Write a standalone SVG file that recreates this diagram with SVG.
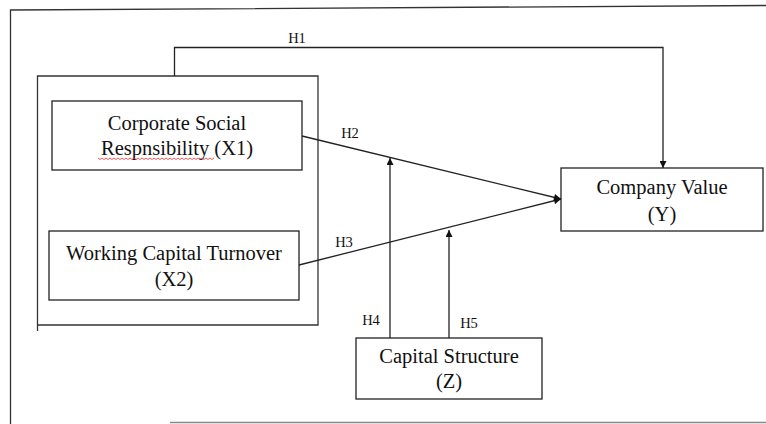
<svg xmlns="http://www.w3.org/2000/svg" width="766" height="424" viewBox="0 0 766 424">
  <defs>
    <marker id="arr" viewBox="0 0 10 10" refX="10" refY="5" markerWidth="8" markerHeight="7" markerUnits="userSpaceOnUse" orient="auto">
      <path d="M0,0 L10,5 L0,10 Z" fill="#111"/>
    </marker>
  </defs>
  <style>
    .box { fill: #fff; stroke: #222; stroke-width: 1.3; }
    .frame { fill: none; stroke: #333; stroke-width: 1.3; }
    .edge { fill: none; stroke: #222; stroke-width: 1.3; }
    .lbl { font-family: "Liberation Serif", "Times New Roman", serif; font-size: 20.5px; fill: #111; text-anchor: middle; }
    .h { font-family: "Liberation Serif", "Times New Roman", serif; font-size: 14.5px; fill: #111; text-anchor: middle; }
  </style>
  <rect width="766" height="424" fill="#fff"/>

  <!-- outer frame -->
  <g id="frame">
    <path class="frame" d="M10.5,424 L10.5,10 L766,5.5"/>
    <line x1="170" y1="422.5" x2="766" y2="422.5" stroke="#888" stroke-width="1.5"/>
  </g>

  <!-- group box -->
  <g id="group">
    <path class="frame" d="M37.5,331 L37.5,76 L318,76 L318,325 L37.5,325"/>
  </g>

  <g id="x1">
    <rect class="box" x="52" y="101" width="250" height="69"/>
    <text class="lbl" x="177" y="130">Corporate Social</text>
    <text class="lbl" x="177" y="155">Respnsibility (X1)</text>
    <path d="M98,158 l2,1.5 l2,-1.5 l2,1.5 l2,-1.5 l2,1.5 l2,-1.5 l2,1.5 l2,-1.5 l2,1.5 l2,-1.5 l2,1.5 l2,-1.5 l2,1.5 l2,-1.5 l2,1.5 l2,-1.5 l2,1.5 l2,-1.5 l2,1.5 l2,-1.5 l2,1.5 l2,-1.5 l2,1.5 l2,-1.5 l2,1.5 l2,-1.5 l2,1.5 l2,-1.5 l2,1.5 l2,-1.5 l2,1.5 l2,-1.5 l2,1.5 l2,-1.5 l2,1.5 l2,-1.5 l2,1.5 l2,-1.5 l2,1.5 l2,-1.5 l2,1.5 l2,-1.5 l2,1.5 l2,-1.5 l2,1.5 l2,-1.5 l2,1.5 l2,-1.5 l2,1.5 l2,-1.5 l2,1.5 l2,-1.5 l2,1.5 l2,-1.5 l2,1.5 l2,-1.5 l2,1.5 l2,-1.5" fill="none" stroke="#e03030" stroke-width="0.8"/>
  </g>

  <g id="x2">
    <rect class="box" x="49" y="231" width="250" height="69"/>
    <text class="lbl" x="174" y="260">Working Capital Turnover</text>
    <text class="lbl" x="174" y="286">(X2)</text>
  </g>

  <g id="y">
    <rect class="box" x="561" y="168" width="202" height="63"/>
    <text class="lbl" x="662" y="194">Company Value</text>
    <text class="lbl" x="662" y="221">(Y)</text>
  </g>

  <g id="z">
    <rect class="box" x="356" y="338" width="186" height="61"/>
    <text class="lbl" x="449" y="363">Capital Structure</text>
    <text class="lbl" x="449" y="388">(Z)</text>
  </g>

  <g id="connectors">
    <path class="edge" d="M174.5,76 L174.5,47.5 L663,47.5 L663,168" marker-end="url(#arr)"/>
    <line class="edge" x1="302" y1="136" x2="561" y2="199" marker-end="url(#arr)"/>
    <line class="edge" x1="299" y1="265" x2="561" y2="199" marker-end="url(#arr)"/>
    <line class="edge" x1="390" y1="338" x2="390" y2="158" marker-end="url(#arr)"/>
    <line class="edge" x1="449" y1="338" x2="449" y2="230" marker-end="url(#arr)"/>
    <text class="h" x="297" y="43">H1</text>
    <text class="h" x="350" y="138">H2</text>
    <text class="h" x="344" y="247">H3</text>
    <text class="h" x="371" y="325">H4</text>
    <text class="h" x="469" y="328">H5</text>
  </g>
</svg>
